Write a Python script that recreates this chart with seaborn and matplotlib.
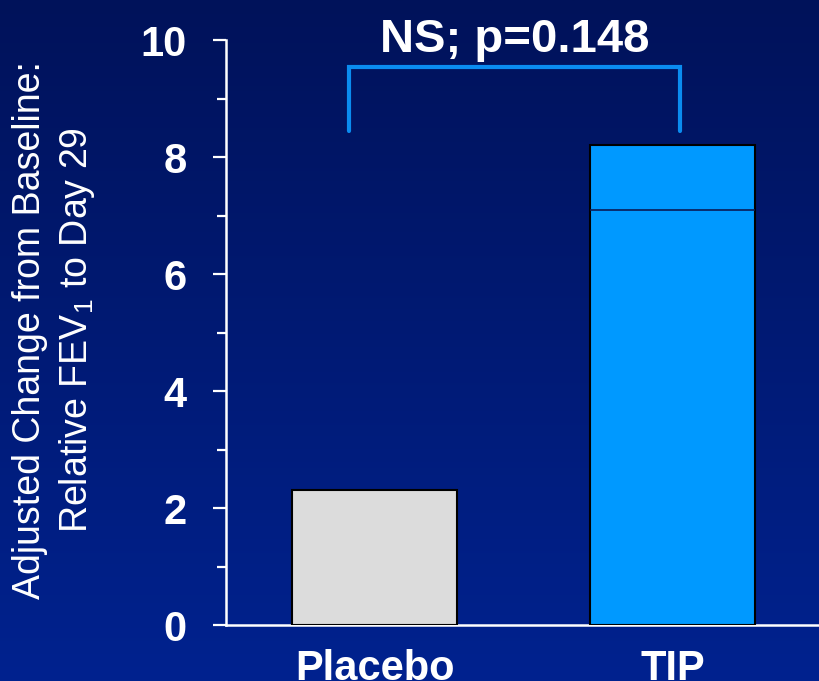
import numpy as np
import pandas as pd
import matplotlib
matplotlib.use("Agg")
import matplotlib.pyplot as plt
from matplotlib.ticker import MultipleLocator
from matplotlib.colors import LinearSegmentedColormap
import seaborn as sns

# Data
groups = ["Placebo", "TIP"]
fev1_change = [2.31, 8.20]
tip_lower_segment = 7.09
p_label = "NS; p=0.148"
y_ticks = [0, 2, 4, 6, 8, 10]

sns.set_theme(style="ticks")
plt.rcParams["font.family"] = ["Liberation Sans", "DejaVu Sans"]
plt.rcParams["mathtext.fontset"] = "custom"
plt.rcParams["mathtext.rm"] = "Liberation Sans"

fig = plt.figure(figsize=(8.19, 6.81), dpi=100)

# Navy gradient backdrop
bg = fig.add_axes([0, 0, 1, 1], zorder=-10)
cmap = LinearSegmentedColormap.from_list("navy", ["#00125a", "#00228f"])
bg.imshow(np.linspace(0, 1, 256).reshape(-1, 1), aspect="auto", cmap=cmap,
          extent=[0, 1, 0, 1], origin="upper")
bg.set_axis_off()

ax = fig.add_axes([0.276, 0.082, 0.724, 0.859])
ax.patch.set_alpha(0)

df = pd.DataFrame({"group": groups, "value": fev1_change})
sns.barplot(data=df, x="group", y="value", hue="group",
            palette=["#dcdcdc", "#0099ff"], saturation=1, width=0.554,
            edgecolor="black", linewidth=1.5, legend=False, ax=ax, zorder=3)

# Inner division line on the TIP bar
tip_bar = ax.patches[1]
x0 = tip_bar.get_x()
ax.plot([x0, x0 + tip_bar.get_width()], [tip_lower_segment, tip_lower_segment],
        color="#0a1a55", lw=1.2, zorder=4, solid_capstyle="butt")

ax.set_xlim(-0.498, 1.49)
ax.set_ylim(0, 10)
ax.set_yticks(y_ticks)
ax.yaxis.set_minor_locator(MultipleLocator(1))

for side in ("top", "right"):
    ax.spines[side].set_visible(False)
for side in ("left", "bottom"):
    ax.spines[side].set_color("white")
    ax.spines[side].set_linewidth(1.8)

ax.tick_params(axis="y", which="major", length=9.5, width=1.6, color="white",
               pad=19, labelcolor="white", labelsize=30)
ax.tick_params(axis="y", which="minor", length=6.5, width=1.6, color="white")
ax.tick_params(axis="x", length=0, pad=17, labelcolor="white", labelsize=30)
for lbl in ax.get_xticklabels() + ax.get_yticklabels():
    lbl.set_fontweight("bold")
ax.set_xlabel("")
ax.set_ylabel("")

# Y-axis title
fig.text(0.067, 0.515,
         "Adjusted Change from Baseline:\nRelative FEV$_{1}$ to Day 29",
         color="white", fontsize=27, rotation=90, ha="center", va="center",
         linespacing=1.3, multialignment="center")

# Significance bracket
bx = [-0.086, -0.086, 1.025, 1.025]
by = [8.45, 9.55, 9.55, 8.45]
ax.plot(bx, by, color="#0a8cf0", lw=3, clip_on=False, zorder=5,
        solid_joinstyle="miter")

fig.text(0.628, 0.924, p_label, color="white", fontsize=34, fontweight="bold",
         ha="center", va="baseline")

fig.savefig("out.png", dpi=100)
